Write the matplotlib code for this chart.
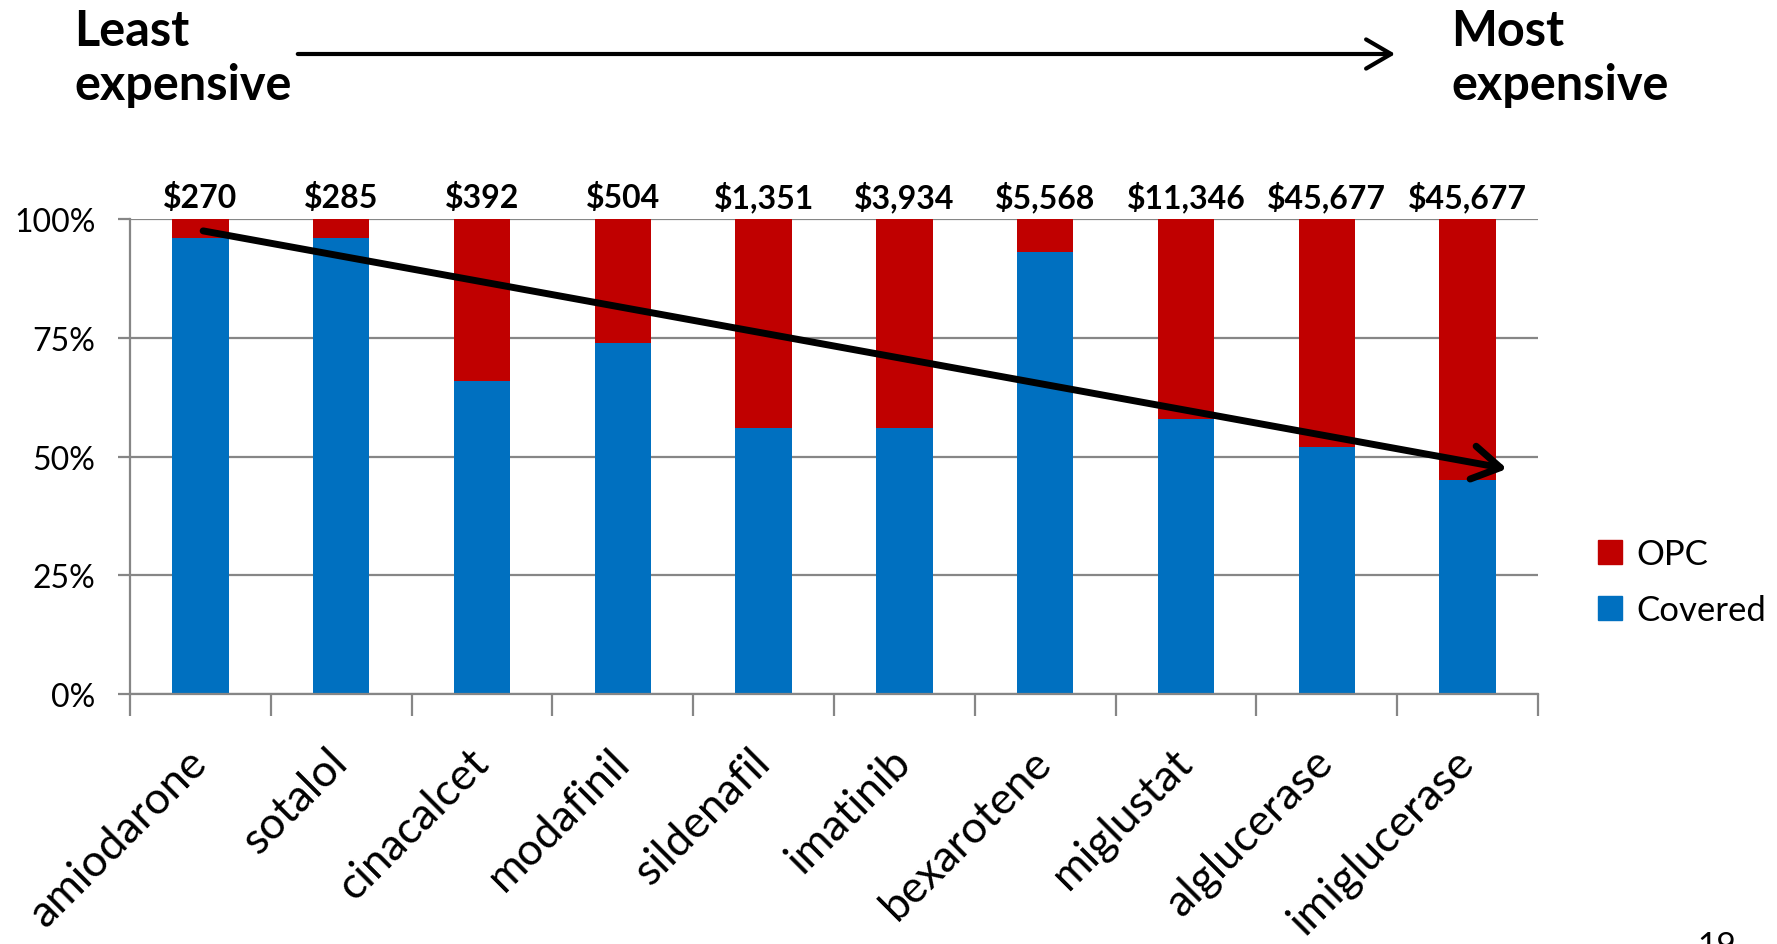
import matplotlib.pyplot as plt
from matplotlib.patches import Patch

plt.rcParams['font.family'] = ['Lato', 'DejaVu Sans']

# data
drugs = ['amiodarone', 'sotalol', 'cinacalcet', 'modafinil', 'sildenafil',
         'imatinib', 'bexarotene', 'miglustat', 'alglucerase', 'imiglucerase']
prices = ['$270', '$285', '$392', '$504', '$1,351', '$3,934', '$5,568',
          '$11,346', '$45,677', '$45,677']
covered = [96, 96, 66, 74, 56, 56, 93, 58, 52, 45]
opc = [4, 4, 34, 26, 44, 44, 7, 42, 48, 55]
yticks = [0, 25, 50, 75, 100]

RED = '#C00000'
BLUE = '#0070C0'
GRID = '#868686'

W, H = 1777, 945
fig = plt.figure(figsize=(W / 100, H / 100), dpi=100)
ax = fig.add_axes([130 / W, 1 - 695 / H, 1408 / W, 475 / H])

x = list(range(len(drugs)))
ax.bar(x, covered, width=0.4, color=BLUE, zorder=2, label='Covered')
ax.bar(x, opc, width=0.4, bottom=covered, color=RED, zorder=2, label='OPC')

ax.set_xlim(-0.5, len(drugs) - 0.5)
ax.set_ylim(0, 100)
ax.set_yticks(yticks)
ax.set_yticklabels([f'{t}%' for t in yticks], fontsize=23)
ax.yaxis.grid(True, color=GRID, lw=1.6, zorder=0)
ax.tick_params(axis='y', length=9, width=1.6, color=GRID, pad=16)

ax.set_xticks(x)
ax.set_xticklabels(drugs, rotation=45, ha='right', va='center',
                   rotation_mode='anchor', fontsize=32)
ax.tick_params(axis='x', length=0, pad=44)
ax.set_xticks([i - 0.5 for i in range(len(drugs) + 1)], minor=True)
ax.tick_params(axis='x', which='minor', length=16, width=1.6, color=GRID)

for side in ['top', 'right']:
    ax.spines[side].set_visible(False)
for side in ['left', 'bottom']:
    ax.spines[side].set_color(GRID)
    ax.spines[side].set_linewidth(1.6)

# price labels above the bars
for xi, p in zip(x, prices):
    ax.annotate(p, (xi, 100), xytext=(0, 5), textcoords='offset points',
                ha='center', va='bottom', fontsize=23, fontweight='bold')

# trend arrow across the bars
ax.annotate('', xy=(9.3, 47.3), xytext=(0, 97.6),
            arrowprops=dict(arrowstyle='->,head_length=0.5,head_width=0.3',
                            lw=5, color='black', mutation_scale=40),
            zorder=5, annotation_clip=False)

# header arrow and labels
fig.text(74 / W, 1 - 9 / H, 'Least\nexpensive', ha='left', va='top',
         fontsize=35, fontweight='bold', linespacing=1.25)
fig.text(1451 / W, 1 - 9 / H, 'Most\nexpensive', ha='left', va='top',
         fontsize=35, fontweight='bold', linespacing=1.25)
ax.annotate('', xy=(1398 / W, 1 - 55 / H), xytext=(295 / W, 1 - 55 / H),
            xycoords='figure fraction', textcoords='figure fraction',
            arrowprops=dict(arrowstyle='->,head_length=0.6,head_width=0.35',
                            lw=3, color='black', mutation_scale=30),
            annotation_clip=False)

handles = [Patch(color=RED, label='OPC'), Patch(color=BLUE, label='Covered')]
fig.legend(handles=handles, loc='center left',
           bbox_to_anchor=(1584 / W, 1 - 583 / H), frameon=False,
           fontsize=25, handlelength=0.7, handleheight=0.7,
           handletextpad=0.4, labelspacing=0.7, borderaxespad=0)

# slide number, cut off at the bottom edge as in the slide
fig.text(1697 / W, 1 - 932 / H, '19', ha='left', va='top', fontsize=24)

fig.savefig('out.png', dpi=100)
